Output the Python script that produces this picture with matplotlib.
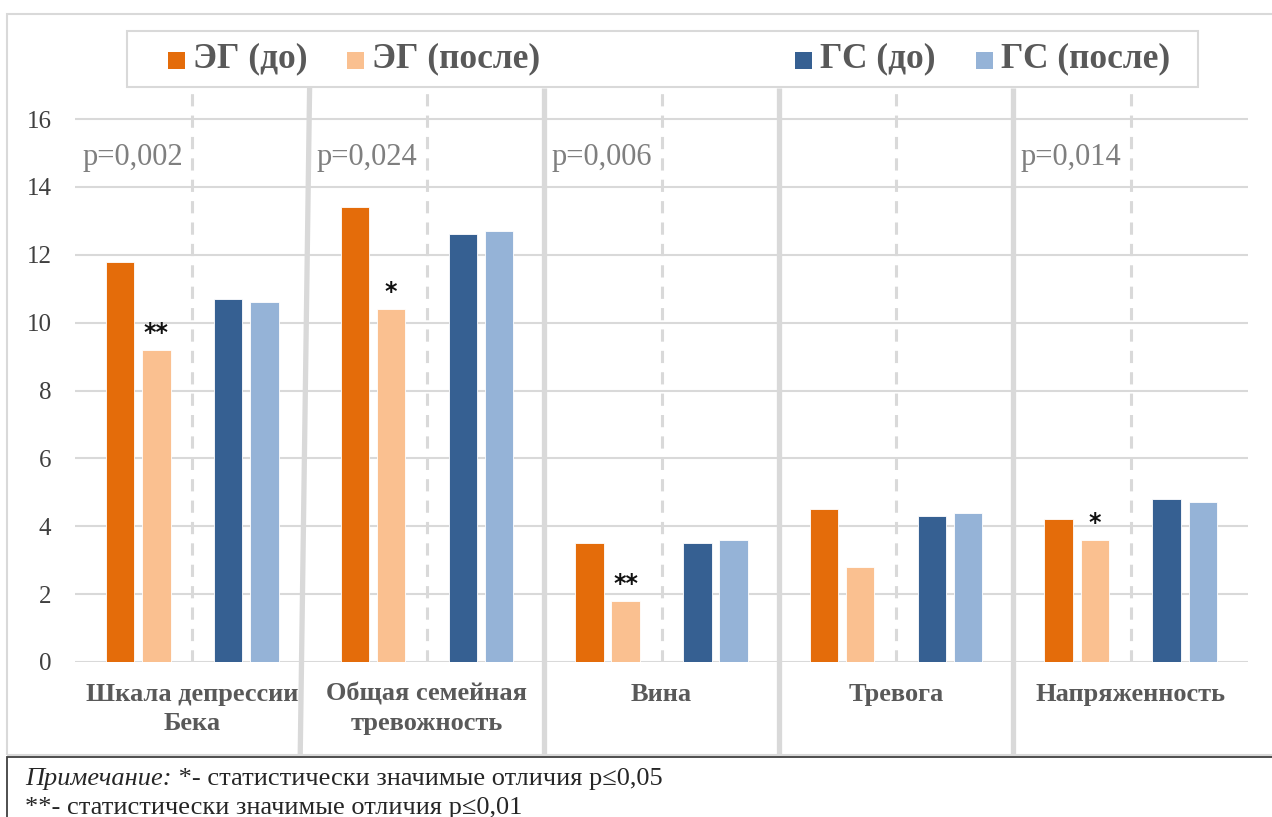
import matplotlib
matplotlib.use('Agg')
import matplotlib.pyplot as plt
from matplotlib.patches import Rectangle
import numpy as np

categories = ['Шкала депрессии\nБека', 'Общая семейная\nтревожность', 'Вина', 'Тревога', 'Напряженность']
series_names = ['ЭГ (до)', 'ЭГ (после)', 'ГС (до)', 'ГС (после)']
eg_before = [11.8, 13.4, 3.5, 4.5, 4.2]
eg_after = [9.2, 10.4, 1.8, 2.8, 3.6]
gs_before = [10.7, 12.6, 3.5, 4.3, 4.8]
gs_after = [10.6, 12.7, 3.6, 4.4, 4.7]
p_values = ['p=0,002', 'p=0,024', 'p=0,006', '', 'p=0,014']
stars = ['**', '*', '**', '', '*']
yticks = [0, 2, 4, 6, 8, 10, 12, 14, 16]
note_line1_italic = 'Примечание:'
note_line1 = ' *- статистически значимые отличия p≤0,05'
note_line2 = '**- статистически значимые отличия p≤0,01'

colors = ['#E46C0A', '#FAC090', '#366092', '#95B3D7']
grid_c = '#D9D9D9'
text_c = '#595959'
serif = ['Liberation Serif', 'DejaVu Serif']

W, H = 1272, 817
fig = plt.figure(figsize=(W / 100, H / 100), dpi=100)


def fx(px):
    return px / W


def fy(py):
    return 1 - py / H


# outer chart frame and note box
fig.patches.append(Rectangle((fx(7), fy(755)), fx(1275 - 7), (755 - 14) / H,
                             transform=fig.transFigure, fill=False, ec=grid_c, lw=1.5))
fig.patches.append(Rectangle((fx(7), fy(830)), fx(1275 - 7), (830 - 757) / H,
                             transform=fig.transFigure, fill=False, ec='#404040', lw=1.3))

ax = fig.add_axes([fx(75), fy(662), fx(1248 - 75), (662 - 88) / H])
ytop = 16 * (662 - 88) / (662 - 119)
ax.set_ylim(0, ytop)
ax.set_xlim(-0.5, len(categories) - 0.5)

x = np.arange(len(categories))
offsets = [-0.307, -0.153, 0.153, 0.307]
width = 0.121
all_series = [eg_before, eg_after, gs_before, gs_after]
for vals, off, c, name in zip(all_series, offsets, colors, series_names):
    ax.bar(x + off, vals, width, color=c, edgecolor='white', linewidth=0.6, zorder=3, label=name)

# gridlines
for t in yticks:
    ax.axhline(t, color=grid_c, lw=1.5, zorder=1)

# dashed centre lines
ax.vlines(x, 0, ytop, colors=grid_c, lw=2.2, linestyles=(0, (4, 3)), zorder=2)

# solid separators (the first one is slightly slanted in the original)
ybot = -(755 - 662) / (662 - 119) * 16
for i in range(len(categories) - 1):
    x0 = i + 0.5
    x1 = x0 - (0.04 if i == 0 else 0.0)
    ax.plot([x0, x1], [ytop, ybot], color=grid_c, lw=3.8, zorder=2, clip_on=False,
            solid_capstyle='butt')

# p-values and significance stars
for i in range(len(categories)):
    if p_values[i]:
        ax.text(i - 0.04, 14.88, p_values[i], ha='right', va='center', color='#7F7F7F',
                fontsize=22, family=serif, zorder=4)
    if stars[i]:
        ax.text(i + offsets[1], eg_after[i] + 0.15, stars[i], ha='center', va='bottom',
                fontsize=17, fontweight='bold', color='#111111', zorder=4)

ax.set_yticks(yticks)
ax.set_yticklabels([str(t) for t in yticks], family=serif, fontsize=18, color='#404040')
ax.set_xticks(x)
ax.set_xticklabels(categories, family=serif, fontsize=19, fontweight='bold', color=text_c,
                   va='top')
for t in ax.get_xticklabels():
    t.set_linespacing(1.35)
ax.tick_params(axis='y', length=0, pad=17)
ax.tick_params(axis='x', length=0, pad=15)
for s in ax.spines.values():
    s.set_visible(False)

# legend box drawn by hand to keep the wide gap between groups
fig.patches.append(Rectangle((fx(127), fy(87)), fx(1198 - 127), (87 - 31) / H,
                             transform=fig.transFigure, fill=True, fc='white', ec=grid_c, lw=1.5,
                             zorder=5))
leg_sq = [168, 347, 795, 976]
for px, c, name in zip(leg_sq, colors, series_names):
    fig.patches.append(Rectangle((fx(px), fy(69)), fx(17), 17 / H, transform=fig.transFigure,
                                 fc=c, ec='none', zorder=6))
    fig.text(fx(px + 25), fy(59), name, ha='left', va='center', fontsize=25.5, fontweight='bold',
             family=serif, color=text_c, zorder=6)

# note
t1 = fig.text(fx(25), fy(779), note_line1_italic, ha='left', va='center', fontsize=19,
              style='italic', family=serif, color='#262626')
fig.canvas.draw()
bb = t1.get_window_extent()
fig.text(bb.x1 / W, fy(779), note_line1, ha='left', va='center', fontsize=19, family=serif,
         color='#262626')
fig.text(fx(25), fy(808), note_line2, ha='left', va='center', fontsize=19, family=serif,
         color='#262626')

fig.savefig('out.png', dpi=100)
